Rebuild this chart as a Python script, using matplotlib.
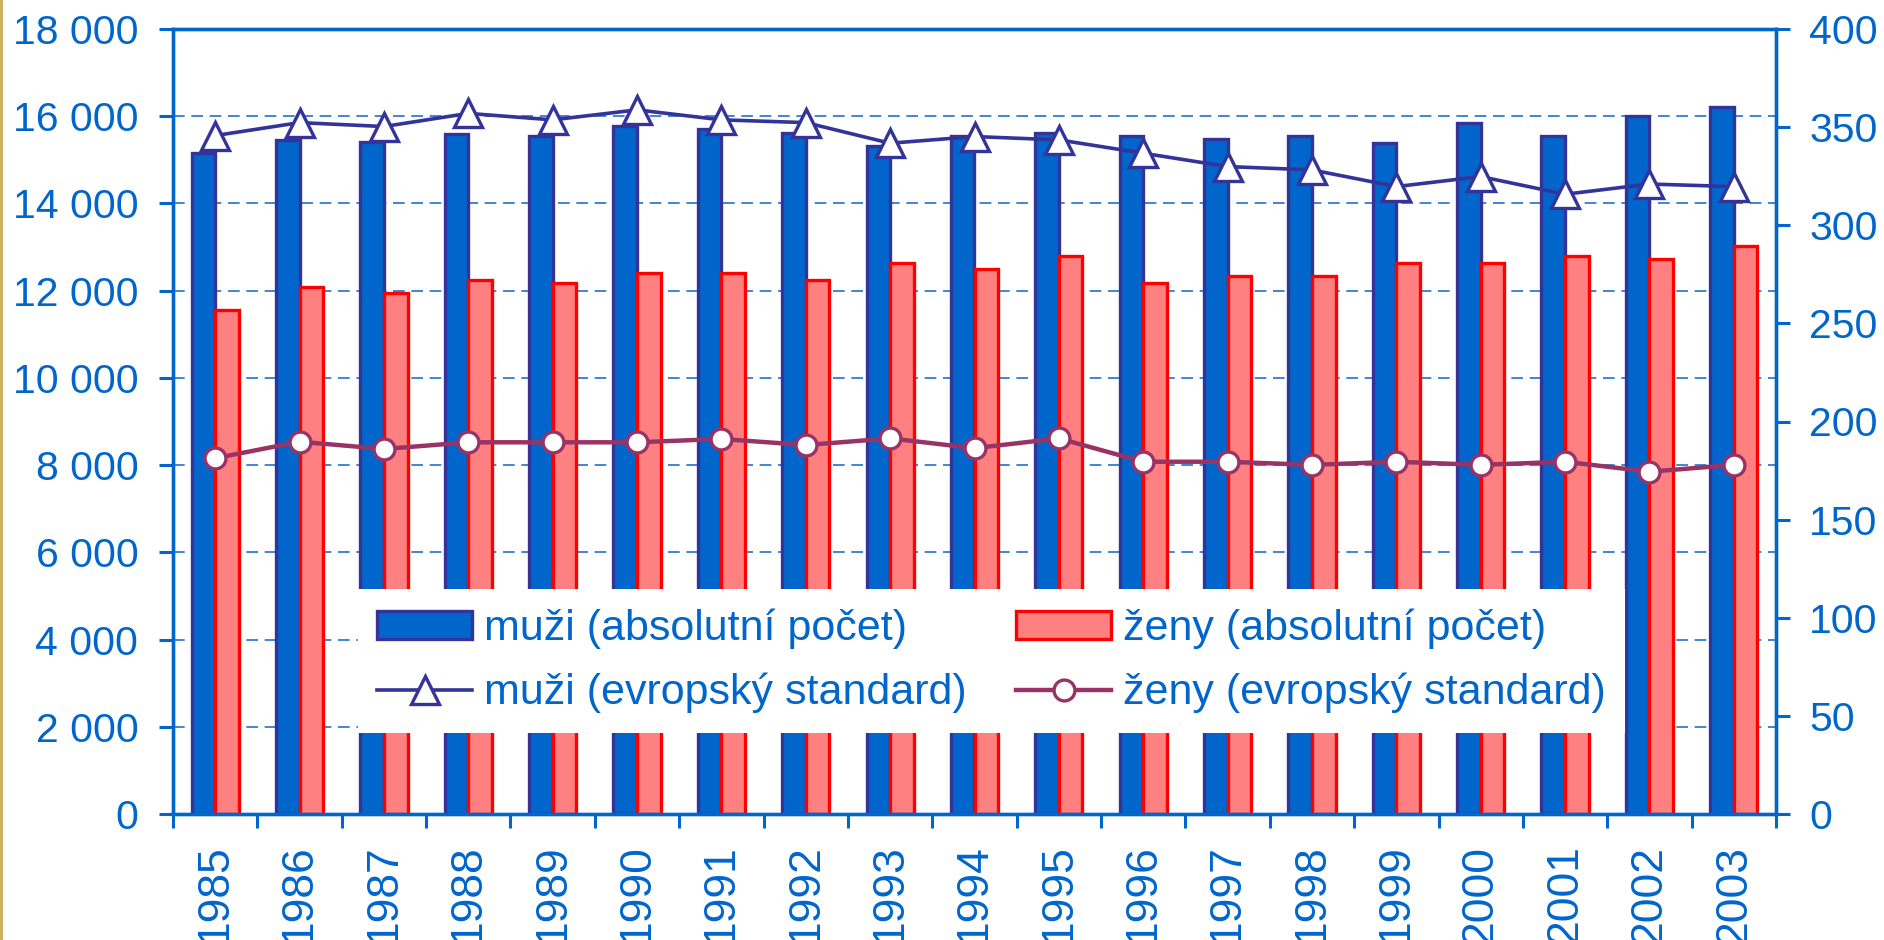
import matplotlib
matplotlib.use('Agg')
import matplotlib.pyplot as plt
from matplotlib.lines import Line2D
from matplotlib.patches import Patch, Rectangle
from matplotlib.ticker import FuncFormatter, MultipleLocator
import numpy as np

plt.rcParams['font.family'] = ['Liberation Sans', 'DejaVu Sans']

years = [str(y) for y in range(1985, 2004)]
men_abs = [15150, 15450, 15400, 15600, 15550, 15780, 15700, 15620, 15320, 15550,
           15620, 15550, 15470, 15550, 15390, 15850, 15550, 16000, 16220]
women_abs = [11560, 12090, 11950, 12240, 12170, 12400, 12400, 12240, 12640, 12490,
             12790, 12180, 12340, 12340, 12640, 12640, 12790, 12720, 13020]
men_std = [345.7, 352.3, 350.3, 357.0, 353.7, 358.8, 353.7, 352.3, 341.8, 345.2,
           343.5, 336.7, 329.9, 328.2, 319.7, 324.8, 315.8, 321.0, 319.7]
women_std = [181.3, 189.7, 186.0, 189.4, 189.4, 189.4, 191.1, 188.0, 191.4, 186.4,
             191.4, 179.5, 179.5, 177.9, 179.5, 177.9, 179.5, 174.4, 177.9]
labels = ['muži (absolutní počet)', 'muži (evropský standard)',
          'ženy (absolutní počet)', 'ženy (evropský standard)']

BLUE = '#0066CC'
NAVY = '#333399'
PINK = '#FF8080'
RED = '#FF0000'
PLUM = '#993366'

W, H = 1884, 940
fig = plt.figure(figsize=(W / 100, H / 100), dpi=100)
ax = fig.add_axes([173 / W, (H - 814) / H, (1776 - 173) / W, (814 - 29) / H])
ax2 = ax.twinx()

x = np.arange(len(years))
w = 0.28
ax.bar(x - w / 2, men_abs, width=w, color=BLUE, edgecolor=NAVY, linewidth=2.4, zorder=2)
ax.bar(x + w / 2, women_abs, width=w, color=PINK, edgecolor=RED, linewidth=2.4, zorder=2)

ax2.plot(x, men_std, color=NAVY, lw=2.6, marker='^', ms=19.5, mfc='white', mec=NAVY, mew=2.4, zorder=3)
ax2.plot(x, women_std, color=PLUM, lw=3.2, marker='o', ms=15, mfc='white', mec=PLUM, mew=2.4, zorder=3)

ax.set_xlim(-0.5, len(years) - 0.5)
ax.set_ylim(0, 18000)
ax2.set_ylim(0, 400)
ax.yaxis.set_major_locator(MultipleLocator(2000))
ax2.yaxis.set_major_locator(MultipleLocator(50))
ax.yaxis.set_major_formatter(FuncFormatter(lambda v, p: f"{int(v):,}".replace(',', ' ')))

ax.set_axisbelow(True)
ax.yaxis.grid(True, color='#2270CC', linestyle=(0, (7, 4)), linewidth=1.2)

ax.set_xticks(x)
ax.set_xticklabels(years, rotation=90)
ax.set_xticks(np.arange(-0.5, len(years), 1), minor=True)
ax.tick_params(axis='x', which='major', length=0, pad=22, labelsize=32, labelcolor=BLUE)
ax.tick_params(axis='x', which='minor', direction='out', length=10, width=2.2, color=BLUE)
ax.tick_params(axis='y', direction='out', length=10, width=2.2, color=BLUE, labelcolor=BLUE,
               labelsize=29.5, pad=15)
ax2.tick_params(axis='y', direction='out', length=10, width=2.2, color=BLUE, labelcolor=BLUE,
                labelsize=29.5, pad=14)

for a in (ax, ax2):
    for s in a.spines.values():
        s.set_color(BLUE)
        s.set_linewidth(2.4)

handles = [
    Patch(facecolor=BLUE, edgecolor=NAVY, linewidth=2.4),
    Line2D([], [], color=NAVY, lw=2.6, marker='^', ms=19.5, mfc='white', mec=NAVY, mew=2.4),
    Patch(facecolor=PINK, edgecolor=RED, linewidth=2.4),
    Line2D([], [], color=PLUM, lw=3.2, marker='o', ms=15, mfc='white', mec=PLUM, mew=2.4),
]
leg = ax2.legend(handles, labels, ncol=2, loc='upper left',
                 bbox_to_anchor=(358 / W, 1 - 589 / H), bbox_transform=fig.transFigure,
                 frameon=True, fancybox=False, facecolor='white', edgecolor='none',
                 framealpha=1, fontsize=31, labelcolor=BLUE, handlelength=2.2,
                 handleheight=0.62, handletextpad=0.28, columnspacing=1.15,
                 labelspacing=0.56, borderpad=0.45, borderaxespad=0)
leg.set_zorder(10)

fig.add_artist(Rectangle((0, 0), 3 / W, 1, transform=fig.transFigure, color='#CFB35A', lw=0))

fig.savefig('out.png', dpi=100)
